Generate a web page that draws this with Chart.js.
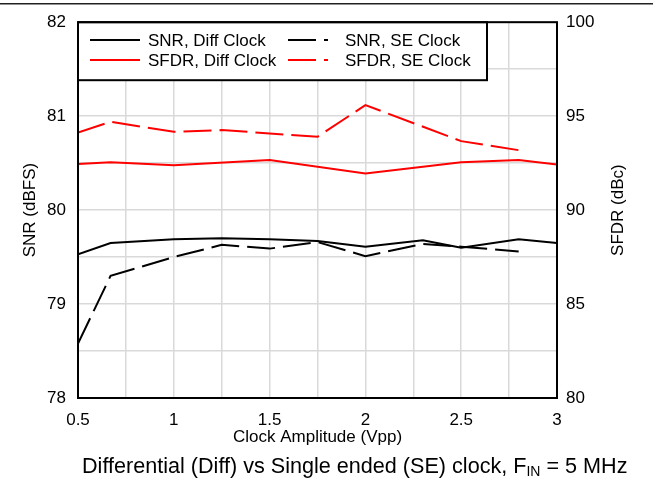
<!DOCTYPE html>
<html>
<head>
<meta charset="utf-8">
<script src="https://cdn.jsdelivr.net/npm/chart.js@4/dist/chart.umd.min.js"></script>
<style>
  html, body { margin: 0; padding: 0; background: #fff; }
  #wrap { position: relative; width: 653px; height: 481px; }
  #caption { position: absolute; left: 82px; top: 455px; font: 21.6px 'Liberation Sans', Arial, sans-serif; line-height: 21px; white-space: nowrap; color: #000; }
  #caption sub { font-size: 14px; vertical-align: -3px; line-height: 0; }
</style>
</head>
<body>
<div id="wrap">
  <canvas id="c" width="653" height="481"></canvas>
  <div id="caption">Differential (Diff) vs Single ended (SE) clock, F<sub>IN</sub> = 5 MHz</div>
</div>
<script>
// ---- data ----
const snrDiffX  = [0.5, 0.67, 1.0, 1.25, 1.5, 1.75, 2.0, 2.3, 2.5, 2.8, 3.0];
const snrDiffY  = [79.53, 79.65, 79.69, 79.70, 79.69, 79.67, 79.61, 79.68, 79.60, 79.69, 79.65];
const snrSeX    = [0.5, 0.67, 1.0, 1.25, 1.5, 1.75, 2.0, 2.3, 2.5, 2.8];
const snrSeY    = [78.58, 79.30, 79.50, 79.63, 79.59, 79.66, 79.51, 79.64, 79.61, 79.56];
const sfdrDiffX = [0.5, 0.67, 1.0, 1.5, 2.0, 2.5, 2.8, 3.0];
const sfdrDiffY = [92.45, 92.55, 92.39, 92.66, 91.95, 92.55, 92.66, 92.43];
const sfdrSeX   = [0.5, 0.67, 1.0, 1.25, 1.5, 1.75, 2.0, 2.5, 2.8];
const sfdrSeY   = [94.13, 94.70, 94.17, 94.26, 94.08, 93.90, 95.59, 93.67, 93.19];
const seriesLabels = ['SNR, Diff Clock', 'SNR, SE Clock', 'SFDR, Diff Clock', 'SFDR, SE Clock'];
const xTitle = 'Clock Amplitude (Vpp)';
const yLeftTitle = 'SNR (dBFS)';
const yRightTitle = 'SFDR (dBc)';

const pts = (xs, ys) => xs.map((x, i) => ({x: x, y: ys[i]}));
const FONT = "'Liberation Sans', Arial, sans-serif";
const DASH = [28, 8];

const datasets = [
  {label: seriesLabels[0], data: pts(snrDiffX, snrDiffY), borderColor: '#000', yAxisID: 'y', borderDash: []},
  {label: seriesLabels[1], data: pts(snrSeX, snrSeY), borderColor: '#000', yAxisID: 'y', borderDash: DASH},
  {label: seriesLabels[2], data: pts(sfdrDiffX, sfdrDiffY), borderColor: '#ff0000', yAxisID: 'y1', borderDash: []},
  {label: seriesLabels[3], data: pts(sfdrSeX, sfdrSeY), borderColor: '#ff0000', yAxisID: 'y1', borderDash: DASH}
].map(d => Object.assign(d, {borderWidth: 2, pointRadius: 0, tension: 0, fill: false}));

const framePlugin = {
  id: 'frame',
  beforeDraw(chart) {
    const ctx = chart.ctx;
    ctx.save();
    ctx.fillStyle = '#fff';
    ctx.fillRect(0, 0, chart.width, chart.height);
    ctx.fillStyle = '#222';
    ctx.fillRect(0, 3, chart.width, 1.5);
    ctx.restore();
  },
  afterDatasetsDraw(chart) {
    const ctx = chart.ctx;
    const a = chart.chartArea;
    ctx.save();
    // legend box
    const lx = a.left, ly = a.top, lw = 409, lh = 58;
    ctx.fillStyle = '#fff';
    ctx.fillRect(lx, ly, lw, lh);
    ctx.lineWidth = 2;
    ctx.strokeStyle = '#000';
    ctx.strokeRect(lx, ly, lw, lh);
    const cols = [{x0: 90, x1: 140, tx: 148}, {x0: 288, x1: 328, tx: 345}];
    const rows = [40, 60];
    const order = [[0, 0, 0], [1, 1, 0], [2, 0, 1], [3, 1, 1]];
    ctx.font = '17px ' + FONT;
    ctx.textBaseline = 'middle';
    ctx.textAlign = 'left';
    order.forEach(([di, c, r]) => {
      const ds = chart.data.datasets[di];
      ctx.beginPath();
      ctx.setLineDash(ds.borderDash || []);
      ctx.strokeStyle = ds.borderColor;
      ctx.lineWidth = 2;
      ctx.moveTo(cols[c].x0, rows[r]);
      ctx.lineTo(cols[c].x1, rows[r]);
      ctx.stroke();
      ctx.setLineDash([]);
      ctx.fillStyle = '#000';
      ctx.fillText(ds.label, cols[c].tx, rows[r] + 1);
    });
    // plot frame
    ctx.lineWidth = 2;
    ctx.strokeStyle = '#000';
    ctx.strokeRect(a.left, a.top, a.right - a.left, a.bottom - a.top);
    // right axis title, reading bottom-to-top
    ctx.translate(618, (a.top + a.bottom) / 2);
    ctx.rotate(-Math.PI / 2);
    ctx.textAlign = 'center';
    ctx.textBaseline = 'middle';
    ctx.fillStyle = '#000';
    ctx.fillText(yRightTitle, 0, 0);
    ctx.restore();
  }
};

new Chart(document.getElementById('c'), {
  type: 'line',
  data: {datasets: datasets},
  plugins: [framePlugin],
  options: {
    responsive: false,
    animation: false,
    devicePixelRatio: 1,
    layout: {padding: {top: 22, bottom: 33, left: 0, right: 0}},
    plugins: {legend: {display: false}, tooltip: {enabled: false}},
    scales: {
      x: {
        type: 'linear', min: 0.5, max: 3,
        afterFit(s) { s.height = 50; },
        border: {display: false},
        grid: {color: '#d9d9d9', lineWidth: 1.5, drawTicks: false},
        ticks: {
          stepSize: 0.25, autoSkip: false, maxRotation: 0, padding: 12,
          color: '#000', font: {family: FONT, size: 17},
          callback: v => (Math.abs(v * 2 - Math.round(v * 2)) < 1e-6 ? String(+v.toFixed(2)) : '')
        },
        title: {display: true, text: xTitle, color: '#000', font: {family: FONT, size: 17}, padding: {top: 0, bottom: 0}}
      },
      y: {
        type: 'linear', position: 'left', min: 78, max: 82,
        afterFit(s) { s.width = 78; },
        border: {display: false},
        grid: {color: '#d9d9d9', lineWidth: 1.5, drawTicks: false},
        ticks: {
          stepSize: 0.5, autoSkip: false, padding: 12,
          color: '#000', font: {family: FONT, size: 17},
          callback: v => (Math.abs(v - Math.round(v)) < 1e-6 ? String(v) : '')
        },
        title: {display: true, text: yLeftTitle, color: '#000', font: {family: FONT, size: 17}, padding: {top: 20, bottom: 0}}
      },
      y1: {
        type: 'linear', position: 'right', min: 80, max: 100,
        afterFit(s) { s.width = 96; },
        border: {display: false},
        grid: {display: false, drawTicks: false},
        ticks: {
          stepSize: 5, autoSkip: false, padding: 9,
          color: '#000', font: {family: FONT, size: 17}
        },
        title: {display: false, text: yRightTitle}
      }
    }
  }
});
</script>
</body>
</html>
